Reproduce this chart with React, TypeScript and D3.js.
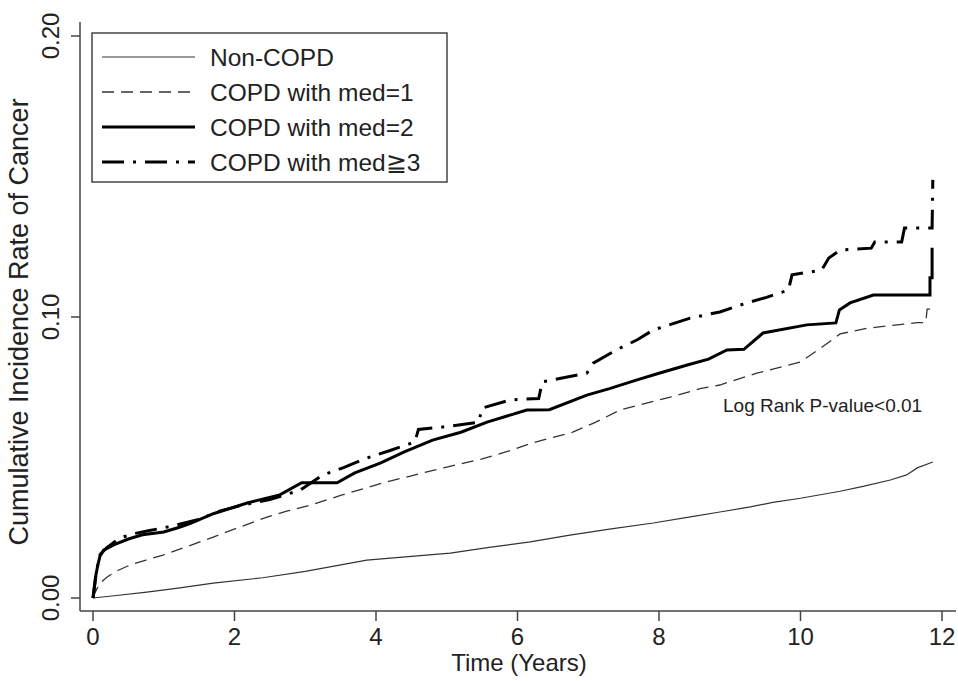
import React from "react";
import * as d3 from "d3";

type Pt = [number, number];

const seriesNames = ["Non-COPD", "COPD with med=1", "COPD with med=2", "COPD with med\u22673"];

const nonCopd: Pt[] = [
  [0, 0], [0.3, 0.0008], [0.76, 0.0021], [1.2, 0.0035], [1.7, 0.0053], [2.4, 0.0072],
  [3.0, 0.0095], [3.87, 0.0135], [4.5, 0.0148], [5.05, 0.016], [5.6, 0.018], [6.18, 0.02],
  [6.74, 0.0224], [7.3, 0.0245], [7.92, 0.0267], [8.4, 0.0287], [8.86, 0.0306], [9.29, 0.0324],
  [9.61, 0.034], [10.0, 0.0355], [10.56, 0.038], [10.9, 0.0398], [11.27, 0.042], [11.5, 0.0438],
  [11.65, 0.0463], [11.87, 0.0484],
];

const med1: Pt[] = [
  [0, 0], [0.03, 0.002], [0.06, 0.0035], [0.1, 0.0053], [0.2, 0.0075], [0.35, 0.0098],
  [0.52, 0.0117], [0.75, 0.0135], [0.99, 0.0153], [1.3, 0.018], [1.7, 0.0217], [2.05, 0.025],
  [2.46, 0.0288], [2.75, 0.031], [3.07, 0.033], [3.5, 0.0365], [4.1, 0.041], [4.5, 0.0435],
  [5.0, 0.0466], [5.5, 0.0495], [5.9, 0.0525], [6.18, 0.055], [6.78, 0.059], [7.1, 0.0625],
  [7.45, 0.0669], [8.16, 0.0715], [8.58, 0.0745], [8.86, 0.0758], [9.38, 0.08], [10.0, 0.084],
  [10.23, 0.088], [10.4, 0.091], [10.56, 0.094], [10.94, 0.096], [11.65, 0.098], [11.77, 0.098],
  [11.79, 0.1028], [11.88, 0.1028],
];

const med2: Pt[] = [
  [0, 0], [0.02, 0.004], [0.04, 0.008], [0.07, 0.012], [0.1, 0.015], [0.15, 0.017],
  [0.3, 0.019], [0.5, 0.021], [0.7, 0.0225], [1.0, 0.0235], [1.2, 0.025], [1.37, 0.0265],
  [1.7, 0.03], [2.18, 0.0338], [2.64, 0.0367], [2.95, 0.041], [3.45, 0.041], [3.7, 0.0445],
  [4.06, 0.048], [4.4, 0.052], [4.8, 0.0562], [5.2, 0.059], [5.57, 0.0626], [6.13, 0.0669],
  [6.45, 0.067], [6.98, 0.0722], [7.3, 0.0745], [7.69, 0.0776], [8.0, 0.08], [8.4, 0.0829],
  [8.7, 0.085], [8.96, 0.0883], [9.2, 0.0885], [9.47, 0.0943], [10.09, 0.0972], [10.5, 0.0979],
  [10.55, 0.1025], [10.7, 0.105], [11.03, 0.1078], [11.83, 0.1078], [11.83, 0.114],
  [11.86, 0.114], [11.86, 0.1246],
];

const med3: Pt[] = [
  [0, 0], [0.02, 0.004], [0.04, 0.008], [0.07, 0.012], [0.1, 0.0155], [0.2, 0.018],
  [0.38, 0.0214], [0.6, 0.023], [0.8, 0.024], [1.1, 0.0255], [1.5, 0.028], [1.8, 0.031],
  [2.1, 0.033], [2.5, 0.035], [2.93, 0.0384], [3.25, 0.0438], [3.55, 0.0465], [3.87, 0.0498],
  [4.2, 0.0525], [4.55, 0.0555], [4.6, 0.06], [5.0, 0.061], [5.45, 0.0625], [5.5, 0.0676],
  [5.9, 0.0705], [6.3, 0.071], [6.35, 0.0769], [6.98, 0.08], [7.07, 0.0836], [7.4, 0.0883],
  [7.7, 0.092], [7.92, 0.0954], [8.44, 0.0996], [8.86, 0.1018], [9.24, 0.105], [9.52, 0.107],
  [9.83, 0.1096], [9.88, 0.115], [10.3, 0.1167], [10.4, 0.121], [10.56, 0.1238], [11.0, 0.1245],
  [11.05, 0.1267], [11.43, 0.1267], [11.47, 0.1317], [11.86, 0.1317], [11.87, 0.1488],
];

const xTicks = [0, 2, 4, 6, 8, 10, 12];
const yTicks = [0, 0.1, 0.2];

const xTitle = "Time (Years)";
const yTitle = "Cumulative Incidence Rate of Cancer";
const pValueText = "Log Rank P-value<0.01";

const styles = [
  { width: 1.2, dash: "", color: "#333" },
  { width: 1.3, dash: "12,7", color: "#333" },
  { width: 3, dash: "", color: "#000" },
  { width: 3, dash: "22,9,3,9", color: "#000" },
];

export default function App() {
  const x = d3.scaleLinear().domain([0, 12]).range([93, 942]);
  const y = d3.scaleLinear().domain([0, 0.2]).range([598, 36]);
  const line = d3
    .line<Pt>()
    .x((d) => x(d[0]))
    .y((d) => y(d[1]))
    .curve(d3.curveLinear);
  const fmt = d3.format(".2f");
  const data = [nonCopd, med1, med2, med3];
  const font = "'Liberation Sans', Arial, sans-serif";
  const axisColor = "#444";
  const axisX = 80;
  const axisY = 611;

  return (
    <svg
      width={958}
      height={681}
      style={{ position: "absolute", left: 0, top: 0, background: "#fff" }}
      fontFamily={font}
    >
      <rect x={0} y={0} width={958} height={681} fill="#fff" />
      <line x1={axisX} y1={22} x2={axisX} y2={axisY} stroke={axisColor} strokeWidth={1.5} />
      <line x1={axisX} y1={axisY} x2={956} y2={axisY} stroke={axisColor} strokeWidth={1.5} />
      {yTicks.map((t) => (
        <g key={"y" + t}>
          <line x1={71} x2={axisX} y1={y(t)} y2={y(t)} stroke={axisColor} strokeWidth={1.5} />
          <text
            transform={`translate(58.5,${y(t)}) rotate(-90)`}
            textAnchor="middle"
            fontSize={24}
            fill="#222"
          >
            {fmt(t)}
          </text>
        </g>
      ))}
      {xTicks.map((t) => (
        <g key={"x" + t}>
          <line x1={x(t)} x2={x(t)} y1={axisY} y2={621} stroke={axisColor} strokeWidth={1.5} />
          <text x={x(t)} y={645} textAnchor="middle" fontSize={24} fill="#222">
            {t}
          </text>
        </g>
      ))}
      <text x={519} y={671} textAnchor="middle" fontSize={24} fill="#222">
        {xTitle}
      </text>
      <text
        transform={`translate(27.5,322) rotate(-90)`}
        textAnchor="middle"
        fontSize={27}
        fill="#222"
      >
        {yTitle}
      </text>

      {data.map((d, i) => (
        <path
          key={"c" + i}
          d={line(d) || ""}
          fill="none"
          stroke={styles[i].color}
          strokeWidth={styles[i].width}
          strokeDasharray={styles[i].dash || undefined}
          strokeLinejoin="miter"
        />
      ))}

      <text x={723} y={412} fontSize={19} fill="#222">
        {pValueText}
      </text>

      <rect x={92} y={33} width={355} height={149} fill="#fff" stroke={axisColor} strokeWidth={1.5} />
      {seriesNames.map((name, i) => {
        const cy = 57 + i * 35;
        return (
          <g key={"l" + i}>
            <line
              x1={102}
              x2={195}
              y1={cy}
              y2={cy}
              stroke={styles[i].color}
              strokeWidth={styles[i].width}
              strokeDasharray={styles[i].dash || undefined}
            />
            <text x={210} y={cy + 8.8} fontSize={24.5} fill="#222">
              {name}
            </text>
          </g>
        );
      })}
    </svg>
  );
}
